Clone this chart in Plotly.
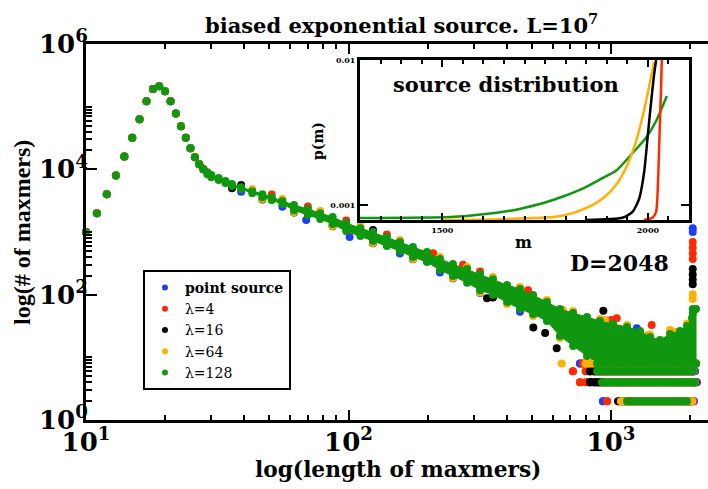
import plotly.graph_objects as go

# ---------------- data ----------------
NAMES = ["<b>point source</b>", "λ=4", "λ=16", "λ=64", "λ=128"]
COLORS = ["#1f3cff", "#ff2a00", "#000000", "#ffb000", "#0f980f"]

# peak region, identical for every source (length, count)
PEAK_LEN = [10, 11, 12, 13, 14, 15, 16, 17, 18, 19, 20, 21, 22, 23, 24, 25, 26, 27, 28]
PEAK_CNT = [1000, 2000, 4020, 8000, 16000, 31800, 63200, 122500, 192000, 212000,
            176000, 122500, 78000, 48800, 31800, 21700, 15600, 12000, 10070]

# λ=128 (green) dense band: upper / lower envelope of the point cloud
BAND_LEN = [29, 30, 32, 34, 36, 39, 43, 47, 51, 56, 62, 70, 78, 87, 98, 111, 124, 140, 157, 176,
            199, 223, 250, 283, 317, 355, 402, 450, 505, 570, 639, 717, 810, 908, 1018, 1151,
            1290, 1408, 1537, 1678, 1832, 1948, 2035, 2108]
BAND_HI = [9020, 8090, 7240, 6490, 5810, 5200, 4490, 4020, 3600, 3110, 2690, 2320, 2000, 1730,
           1387, 1153, 996, 829, 690, 574, 478, 370, 308, 256, 213, 177, 142, 123, 98.6, 76.2,
           58.9, 50.9, 44.0, 37.9, 34.0, 30.4, 26.3, 21.1, 18.9, 23.5, 26.3, 31.6, 42.3, 58.9]
BAND_LO = [8380, 7510, 6730, 6030, 5400, 4830, 4170, 3600, 3230, 2790, 2230, 1860, 1610, 1340,
           1035, 860, 717, 596, 497, 398, 331, 247, 198, 155, 118, 100, 76.2, 58.9, 49.1, 37.9,
           21.9, 15.1, 10.5, 8, 8, 8, 8, 8, 8, 8, 8, 8, 8, 8]

# rows of low integer counts at large lengths: (count, first length, last length)
ROWS = {
    "blue":   ([2, 2, 4, 6, 6, 8, 8], [932, 1990, 892, 861, 900, 762, 850], [932, 2071, 2126, 861, 2090, 762, 2100]),
    "red":    ([2, 2, 4, 4, 6, 6, 8, 8], [966, 1120, 762, 800, 716, 800, 782, 850], [966, 2050, 762, 2100, 716, 2060, 782, 2100]),
    "black":  ([2, 4, 4, 6, 6, 8], [1063, 832, 860, 832, 870, 850], [2020, 832, 2100, 832, 2060, 2100]),
    "orange": ([2, 4, 6, 8], [1090, 950, 900, 800], [2040, 2090, 2060, 2100]),
    "green":  ([2, 4, 6, 8], [1151, 924, 885, 885], [1948, 2080, 2051, 2108]),
}

# scattered points visible at the edges of the cloud
BLUE_LEN = [39, 56, 69, 101, 157, 223, 317, 450, 1253]
BLUE_CNT = [4400, 2540, 1550, 830, 455, 225, 106, 53.6, 29]
RED_LEN = [51, 70, 98, 140, 210, 273, 317, 483, 1000, 1051, 1429]
RED_CNT = [3960, 2550, 1530, 910, 460, 300, 234, 118, 39.3, 41.9, 32.7]
BLACK_LEN = [36, 47, 62, 87, 124, 176, 250, 337, 355, 506, 561, 621, 935, 39, 124]
BLACK_CNT = [4970, 3310, 2050, 1230, 660, 366, 182, 88, 90, 30, 24.4, 13.9, 55.4, 5600, 1080]
ORANGE_LEN = [43, 47, 56, 62, 78, 87, 111, 124, 157, 176, 223, 250, 283, 317, 355, 402, 450,
              505, 570, 639, 649, 656, 717, 908, 950, 1151, 1380, 1408, 1678, 1780, 1948]
ORANGE_CNT = [4850, 3350, 3360, 2070, 2160, 1250, 1245, 665, 745, 370, 400, 184, 276, 108, 191,
              71, 133, 45.7, 82.3, 20.4, 8, 56.8, 55, 41, 39.3, 32.8, 22.7, 23.2, 27.3, 25.7, 34.8]

# spike at the source length D = 2048
SPIKE_LEN = 2048
SPIKE_CNT = {
    "blue": [1150, 1000],
    "red": [690, 560, 455, 370],
    "black": [257, 210, 175, 147],
    "orange": [102, 85],
    "green": [59, 50],
}

# inset: source distributions p(m)
SRC_M = {
    "red":    [1990, 2011, 2020, 2024, 2028, 2032, 2034],
    "black":  [1850, 1938, 1963, 1979, 1991, 1999, 2007, 2015, 2020],
    "orange": [1500, 1641, 1776, 1817, 1856, 1890, 1922, 1946, 1971, 1988, 2002, 2015],
    "green":  [1300, 1520, 1605, 1685, 1754, 1795, 1844, 1885, 1924, 1963, 1995, 2020, 2046],
}
SRC_P = {
    "red":    [0.00079, 0.000817, 0.0009, 0.0013, 0.00288, 0.0064, 0.0108],
    "black":  [0.00079, 0.000817, 0.0009, 0.00111, 0.0017, 0.00288, 0.0049, 0.0079, 0.01],
    "orange": [0.00079, 0.0008, 0.00083, 0.00088, 0.00097, 0.00111, 0.00137, 0.00179, 0.00274,
               0.00418, 0.00638, 0.00973],
    "green":  [0.000813, 0.000826, 0.000867, 0.000937, 0.00105, 0.00115, 0.00131, 0.00151,
               0.00174, 0.00229, 0.0029, 0.0038, 0.00565],
}

X_TICKS = [10, 100, 1000]
X_TICKTEXT = ["10<sup>1</sup>", "10<sup>2</sup>", "10<sup>3</sup>"]
X_MINOR = [20, 30, 40, 50, 60, 70, 80, 90, 200, 300, 400, 500, 600, 700, 800, 900, 2000]
Y_TICKS = [1, 100, 10000, 1000000]
Y_TICKTEXT = ["10<sup>0</sup>", "10<sup>2</sup>", "10<sup>4</sup>", "10<sup>6</sup>"]
Y_MINOR = [2, 3, 4, 5, 6, 7, 8, 9, 10, 200, 300, 400, 500, 600, 700, 800, 900, 1000,
           20000, 30000, 40000, 50000, 60000, 70000, 80000, 90000, 100000]
IN_X_TICKS = [1500, 2000]
IN_Y_TICKS = [0.001, 0.01]
IN_Y_TICKTEXT = ["0.001", "0.01"]

# ---------------- figure ----------------
C = dict(zip(["blue", "red", "black", "orange", "green"], COLORS))
SERIF = "DejaVu Serif"
MS = 8

fig = go.Figure()


def rows_trace(key):
    cnt, st, en = ROWS[key]
    xs, ys = [], []
    for c, s, e in zip(cnt, st, en):
        xs += [s, e, None]
        ys += [c, c, None]
    return go.Scatter(x=xs, y=ys, mode="lines+markers", showlegend=False, hoverinfo="skip",
                      line=dict(color=C[key], width=MS), marker=dict(color=C[key], size=MS),
                      xaxis="x", yaxis="y")


def pts(key, xs, ys, clip=True):
    return go.Scatter(x=xs, y=ys, mode="markers", showlegend=False, hoverinfo="skip",
                      marker=dict(color=C[key], size=MS), cliponaxis=clip, xaxis="x", yaxis="y")


fringe = {"blue": (BLUE_LEN, BLUE_CNT), "red": (RED_LEN, RED_CNT),
          "black": (BLACK_LEN, BLACK_CNT), "orange": (ORANGE_LEN, ORANGE_CNT)}

for key in ["blue", "red", "black", "orange"]:
    fig.add_trace(rows_trace(key))
    fig.add_trace(pts(key, *fringe[key]))
    fig.add_trace(pts(key, [SPIKE_LEN] * len(SPIKE_CNT[key]), SPIKE_CNT[key]))
    fig.add_trace(pts(key, PEAK_LEN, PEAK_CNT, clip=False))

# green cloud on top
fig.add_trace(go.Scatter(x=BAND_LEN + BAND_LEN[::-1], y=BAND_HI + BAND_LO[::-1],
                         mode="lines", fill="toself", fillcolor=C["green"],
                         line=dict(color=C["green"], width=1), showlegend=False,
                         hoverinfo="skip", xaxis="x", yaxis="y"))
fig.add_trace(pts("green", BAND_LEN + BAND_LEN, BAND_HI + BAND_LO))
fig.add_trace(rows_trace("green"))
fig.add_trace(pts("green", [SPIKE_LEN] * len(SPIKE_CNT["green"]), SPIKE_CNT["green"]))
fig.add_trace(pts("green", PEAK_LEN, PEAK_CNT, clip=False))

# legend entries
for name, col in zip(NAMES, COLORS):
    fig.add_trace(go.Scatter(x=[None], y=[None], mode="markers", name=name,
                             marker=dict(color=col, size=6), xaxis="x", yaxis="y"))

# inset curves
for key in ["green", "orange", "black", "red"]:
    fig.add_trace(go.Scatter(x=SRC_M[key], y=SRC_P[key], mode="lines", showlegend=False,
                             hoverinfo="skip", line=dict(color=C[key], width=2.5, shape="spline",
                                                         smoothing=0.6),
                             xaxis="x2", yaxis="y2"))

tickfont_big = dict(family=SERIF, size=26, color="black", weight="bold")
tickfont_small = dict(family=SERIF, size=8, color="black", weight="bold")

fig.update_layout(
    width=708, height=489,
    margin=dict(l=86, r=0, t=44, b=69, autoexpand=False),
    paper_bgcolor="white", plot_bgcolor="white",
    xaxis=dict(type="log", range=[1, 3.3695], domain=[0, 1], anchor="y", automargin=False,
               showline=True, linewidth=3, linecolor="black", mirror="ticks",
               ticks="inside", ticklen=10, tickwidth=2, tickcolor="black",
               tickmode="array", tickvals=X_TICKS, ticktext=X_TICKTEXT, tickfont=tickfont_big,
               ticklabelstandoff=-3,
               showgrid=False, zeroline=False,
               minor=dict(tickmode="array", tickvals=X_MINOR, ticks="inside", ticklen=5,
                          tickwidth=2, tickcolor="black", showgrid=False)),
    yaxis=dict(type="log", range=[0, 6], domain=[0, 1], anchor="x", automargin=False,
               showline=True, linewidth=3, linecolor="black", mirror=False,
               ticks="inside", ticklen=11, tickwidth=2, tickcolor="black",
               tickmode="array", tickvals=Y_TICKS, ticktext=Y_TICKTEXT, tickfont=tickfont_big,
               ticklabelstandoff=-10,
               showgrid=False, zeroline=False,
               minor=dict(tickmode="array", tickvals=Y_MINOR, ticks="inside", ticklen=6,
                          tickwidth=2, tickcolor="black", showgrid=False)),
    xaxis2=dict(range=[1300, 2100], domain=[0.4405, 0.9695], anchor="y2", automargin=False,
                showline=True, linewidth=3, linecolor="black", mirror="ticks",
                ticks="inside", ticklen=7, tickwidth=2, tickcolor="black",
                tickmode="array", tickvals=IN_X_TICKS, tickfont=tickfont_small,
                showgrid=False, zeroline=False,
                minor=dict(dtick=50, tick0=1300, ticks="inside", ticklen=4, tickwidth=2,
                           tickcolor="black", showgrid=False)),
    yaxis2=dict(type="log", range=[-3.103, -1.9995], domain=[0.5319, 0.9574], anchor="x2",
                automargin=False,
                showline=True, linewidth=3, linecolor="black", mirror="ticks",
                ticks="inside", ticklen=8, tickwidth=2, tickcolor="black",
                tickmode="array", tickvals=IN_Y_TICKS, ticktext=IN_Y_TICKTEXT,
                tickfont=tickfont_small, showgrid=False, zeroline=False),
    legend=dict(x=0.0916, y=0.399, xanchor="left", yanchor="top", bgcolor="white",
                bordercolor="black", borderwidth=2, itemwidth=30,
                font=dict(family=SERIF, size=14, color="black")),
    showlegend=True,
)

ann = [
    dict(text="biased exponential source. L=10<sup>7</sup>", x=0.508, y=1.053,
         font=dict(family=SERIF, size=21, weight="bold")),
    dict(text="log(length of maxmers)", x=0.5016, y=-0.1325,
         font=dict(family=SERIF, size=21.7, weight="bold")),
    dict(text="log(# of maxmers)", x=-0.1029, y=0.5, textangle=-90,
         font=dict(family="Liberation Serif", size=24, weight="bold")),
    dict(text="D=2048", x=0.857, y=0.4176, font=dict(family=SERIF, size=22, weight="bold")),
    dict(text="source distribution", x=0.675, y=0.8936,
         font=dict(family=SERIF, size=21, weight="bold")),
    dict(text="m", x=0.7026, y=0.4734, font=dict(family=SERIF, size=16, weight="bold")),
    dict(text="p(m)", x=0.373, y=0.742, textangle=-90,
         font=dict(family=SERIF, size=14, weight="bold")),
]
for a in ann:
    a.update(xref="paper", yref="paper", showarrow=False, xanchor="center", yanchor="middle")
    a["font"].setdefault("color", "black")
    fig.add_annotation(**a)

fig.write_html("out.html", config={"displayModeBar": False},
               post_script="document.body.style.margin='0px';")
